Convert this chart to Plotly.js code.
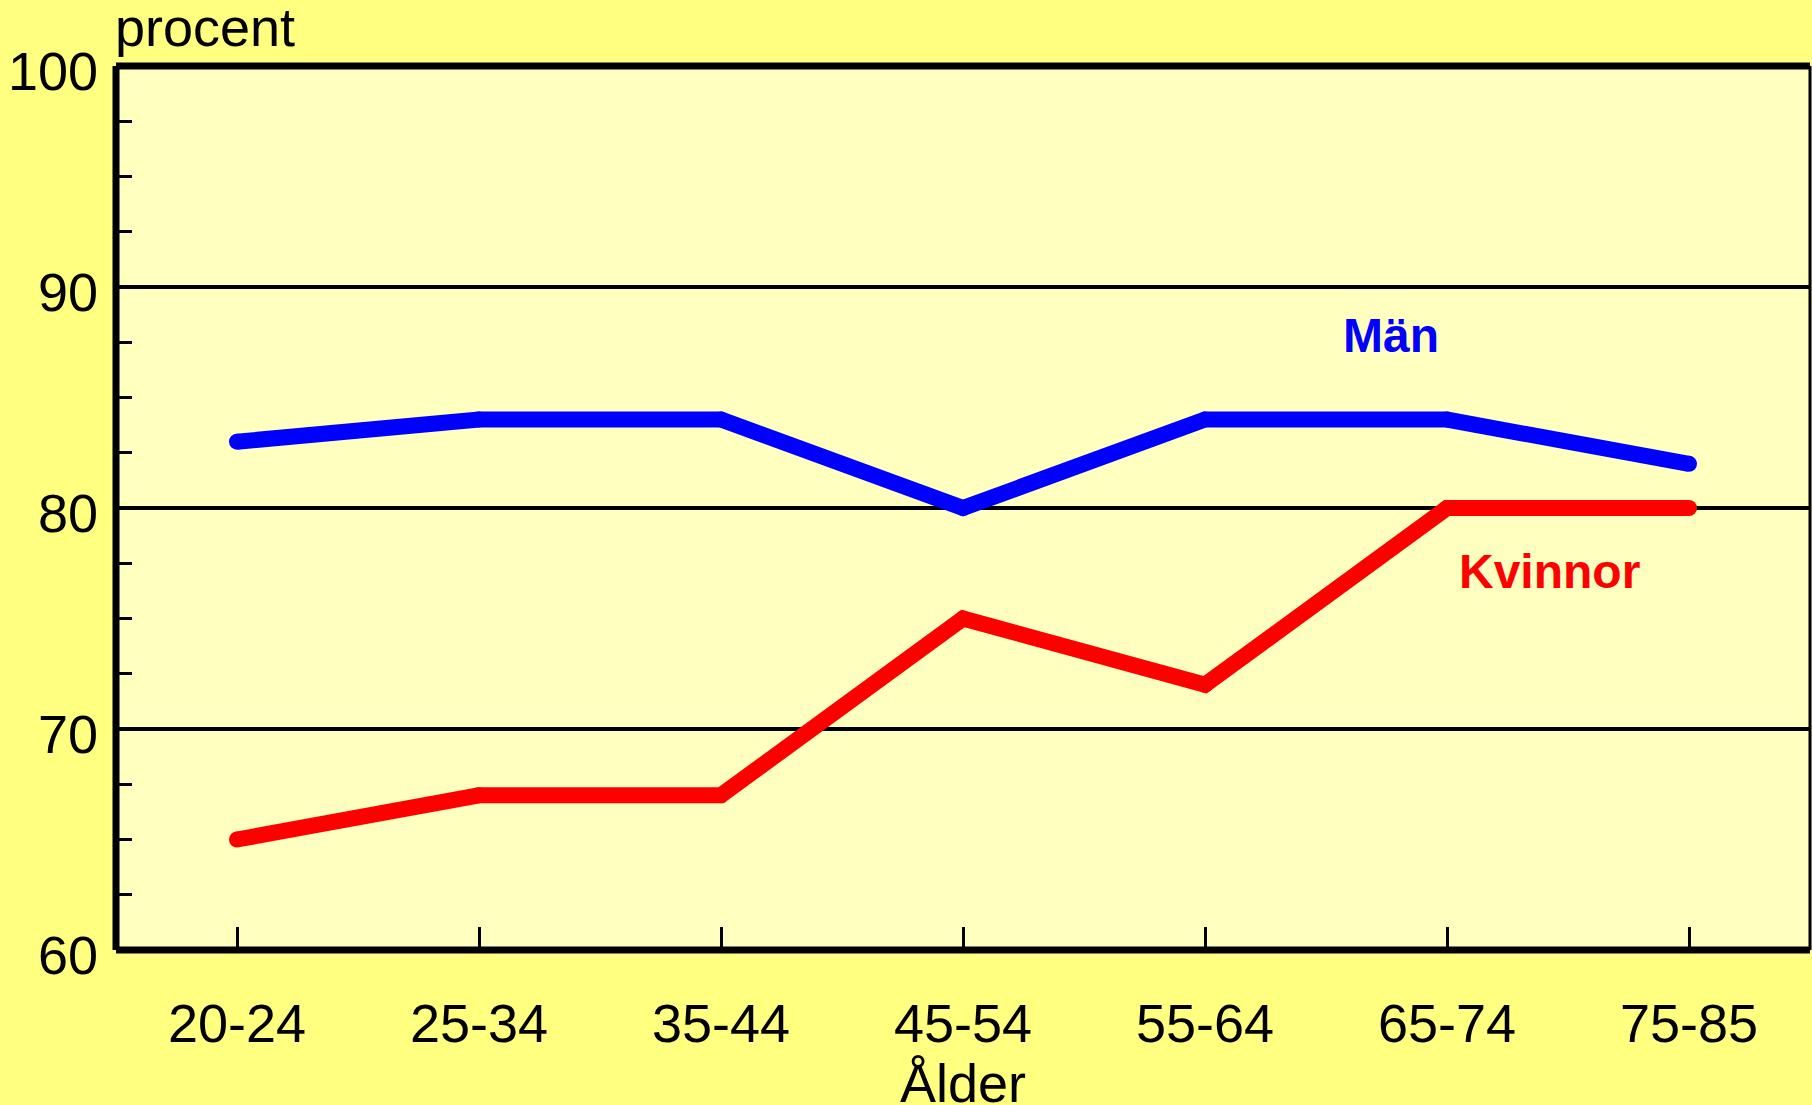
<!DOCTYPE html>
<html>
<head>
<meta charset="utf-8">
<script src="https://cdn.plot.ly/plotly-3.0.1.min.js"></script>
<style>html,body{margin:0;padding:0;background:#FFFF80;}#chart{width:1812px;height:1105px;}</style>
</head>
<body>
<div id="chart"></div>
<script>
const ageGroups = ["20-24", "25-34", "35-44", "45-54", "55-64", "65-74", "75-85"];
const man = [83, 84, 84, 80, 84, 84, 82];
const kvinnor = [65, 67, 67, 75, 72, 80, 80];
const yTickVals = [60, 70, 80, 90, 100];
const yTickText = ["60", "70", "80", "90", "100"];

const FONT = "Arial, 'Liberation Sans', sans-serif";

const traces = [
  {
    x: ageGroups, y: man, type: "scatter", mode: "lines+markers", name: "Män",
    line: {color: "#0000FF", width: 16},
    marker: {color: "#0000FF", size: 16},
    hoverinfo: "skip"
  },
  {
    x: ageGroups, y: kvinnor, type: "scatter", mode: "lines+markers", name: "Kvinnor",
    line: {color: "#FF0000", width: 16},
    marker: {color: "#FF0000", size: 16},
    hoverinfo: "skip"
  }
];

const layout = {
  width: 1812, height: 1105,
  margin: {l: 116, r: 2, t: 66, b: 155, pad: 0},
  paper_bgcolor: "#FFFF80",
  plot_bgcolor: "#FFFFC0",
  showlegend: false,
  font: {family: FONT, color: "#000000", size: 53},
  xaxis: {
    type: "category",
    range: [-0.5, 6.5],
    showline: false, showgrid: false, zeroline: false,
    ticks: "inside", ticklen: 23, tickwidth: 3, tickcolor: "#000000",
    tickfont: {family: FONT, size: 54, color: "#000000"},
    ticklabelstandoff: 37,
    fixedrange: true
  },
  yaxis: {
    range: [60, 100],
    tickvals: yTickVals, ticktext: yTickText,
    showline: false, zeroline: false,
    showgrid: true, gridcolor: "#000000", gridwidth: 3.5,
    ticks: "inside", ticklen: 16, tickwidth: 3, tickcolor: "#000000",
    minor: {dtick: 2.5, tick0: 60, ticks: "inside", ticklen: 16, tickwidth: 3, tickcolor: "#000000", showgrid: false},
    tickfont: {family: FONT, size: 54, color: "#000000"},
    ticklabelstandoff: 17,
    ticklabelshift: 5,
    fixedrange: true
  },
  shapes: [
    {type: "line", xref: "paper", yref: "paper", x0: 0, x1: 0, y0: 0, y1: 1, line: {color: "#000000", width: 7}, layer: "above"},
    {type: "line", xref: "paper", yref: "paper", x0: 0, x1: 1, y0: 1, y1: 1, line: {color: "#000000", width: 7}, layer: "above"},
    {type: "line", xref: "paper", yref: "paper", x0: 0, x1: 1, y0: 0, y1: 0, line: {color: "#000000", width: 7}, layer: "above"},
    {type: "line", xref: "paper", yref: "paper", x0: 1, x1: 1, y0: 0, y1: 1, line: {color: "#000000", width: 3}, layer: "above"}
  ],
  annotations: [
    {text: "procent", xref: "paper", yref: "paper", x: 0, y: 1, xanchor: "left", yanchor: "bottom",
     xshift: -3, yshift: 7, showarrow: false, font: {family: FONT, size: 54, color: "#000000"}},
    {text: "Ålder", xref: "paper", yref: "paper", x: 0.5, y: 0, xanchor: "center", yanchor: "top",
     xshift: 0, yshift: -101, showarrow: false, font: {family: FONT, size: 54, color: "#000000"}},
    {text: "<b>Män</b>", xref: "paper", yref: "paper", x: 0.7527, y: 0.6946, xanchor: "center", yanchor: "middle",
     showarrow: false, font: {family: FONT, size: 48, color: "#0000FF"}},
    {text: "<b>Kvinnor</b>", xref: "paper", yref: "paper", x: 0.8465, y: 0.4287, xanchor: "center", yanchor: "middle",
     showarrow: false, font: {family: FONT, size: 48, color: "#FF0000"}}
  ]
};

Plotly.newPlot("chart", traces, layout, {displayModeBar: false, staticPlot: true});
</script>
</body>
</html>
